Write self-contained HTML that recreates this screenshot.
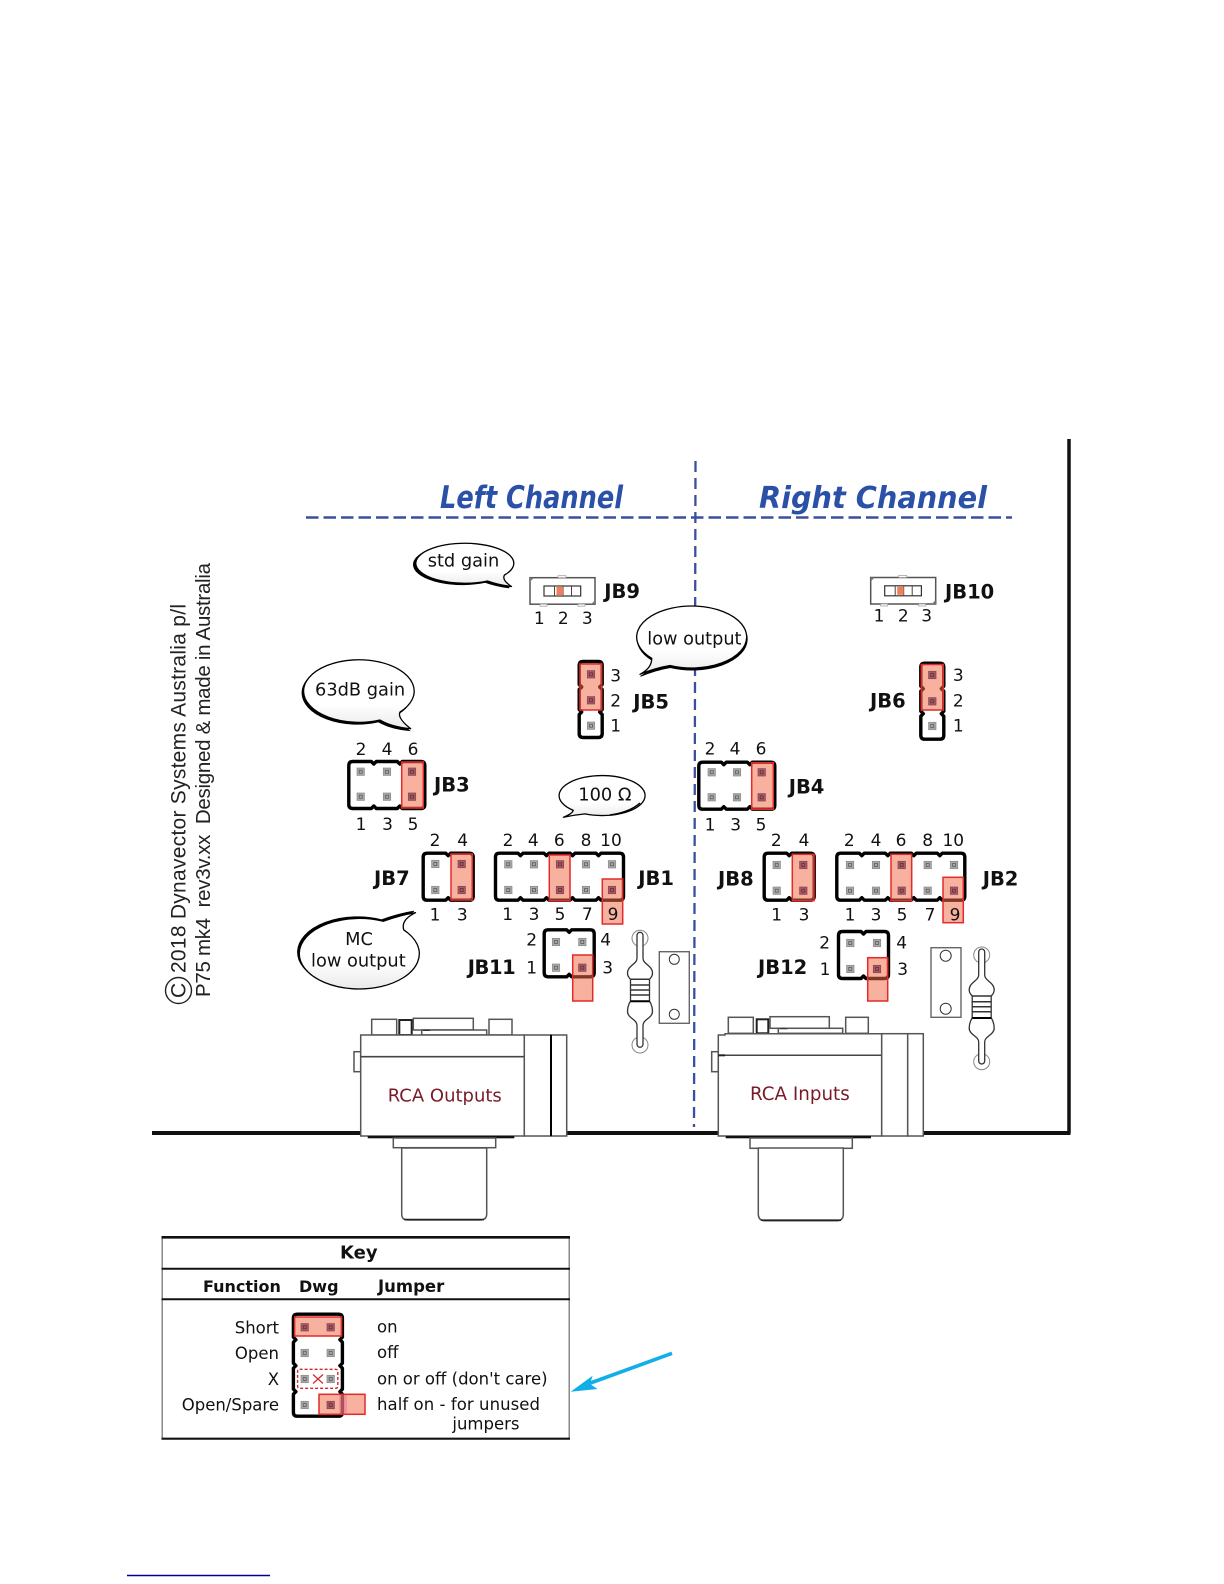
<!DOCTYPE html>
<html><head><meta charset="utf-8"><style>
html,body{margin:0;padding:0;background:#fff;width:1224px;height:1584px;overflow:hidden}
svg{display:block}
text{font-family:"DejaVu Sans","Liberation Sans",sans-serif;fill:#111}
.n{font-size:17px;text-anchor:middle}
.b{font-size:19.5px;font-weight:bold}
.t{font-size:17.8px}
.k{font-size:16.5px}
.kb{font-size:16px;font-weight:bold}
.r{text-anchor:end}
.ti{font-size:31px;font-weight:bold;font-style:italic;fill:#2a50a8}
.rca{font-size:18px;fill:#7a1a28}
.ar{font-family:"Liberation Sans",sans-serif;font-size:21px;fill:#222}
.j{fill:#fff;stroke:#000;stroke-width:3.4;stroke-linejoin:round}
.c{fill:#ef6a45;fill-opacity:.52;stroke:#e22a2a;stroke-width:1.5}
.g{fill:#fff;stroke:#555;stroke-width:1.5}
.bs{fill:url(#bg);stroke:#000;stroke-width:1.3;stroke-linejoin:round}
</style></head><body>
<svg width="1224" height="1584" viewBox="0 0 1224 1584" xmlns="http://www.w3.org/2000/svg">
<defs>
<linearGradient id="bg" x1="0" y1="0" x2="0" y2="1"><stop offset="0.65" stop-color="#fff"/><stop offset="1" stop-color="#eaeaea"/></linearGradient>
<g id="p"><rect x="-3.7" y="-3.7" width="7.4" height="7.4" fill="#a8a8a8" stroke="#8a8a8a" stroke-width=".7"/><rect x="-1.5" y="-1.5" width="3" height="3" fill="none" stroke="#555" stroke-width=".7"/></g>
<g id="q"><rect x="-3.7" y="-3.7" width="7.4" height="7.4" fill="#a45a62" stroke="#8a4450" stroke-width=".7"/><rect x="-1.5" y="-1.5" width="3" height="3" fill="none" stroke="#5a2a35" stroke-width=".7"/></g>
<path id="c2" class="j" d="M4 0H22.5L25 2.5L27.5 0H46Q50 0 50 4V43Q50 47 46 47H27.5L25 44.5L22.5 47H4Q0 47 0 43V4Q0 0 4 0Z"/>
<path id="c3" class="j" d="M4 0H22.5L25 2.5L27.5 0H48.5L51 2.5L53.5 0H72Q76 0 76 4V43Q76 47 72 47H53.5L51 44.5L48.5 47H27.5L25 44.5L22.5 47H4Q0 47 0 43V4Q0 0 4 0Z"/>
<path id="c5" class="j" d="M4 0H22.5L25 2.5L27.5 0H48.5L51 2.5L53.5 0H74.5L77 2.5L79.5 0H100.5L103 2.5L105.5 0H124Q128 0 128 4V43Q128 47 124 47H105.5L103 44.5L100.5 47H79.5L77 44.5L74.5 47H53.5L51 44.5L48.5 47H27.5L25 44.5L22.5 47H4Q0 47 0 43V4Q0 0 4 0Z"/>
<path id="v3" class="j" d="M4 0H19Q23 0 23 4V23L20.5 25.5L23 28V48L20.5 50.5L23 53V72Q23 76 19 76H4Q0 76 0 72V53L2.5 50.5L0 48V28L2.5 25.5L0 23V4Q0 0 4 0Z"/>
<path id="k4" class="j" d="M4 0H45Q49 0 49 4V23L46.5 25.5L49 28V49L46.5 51.5L49 54V75L46.5 77.5L49 80V98Q49 102 45 102H4Q0 102 0 98V80L2.5 77.5L0 75V54L2.5 51.5L0 49V28L2.5 25.5L0 23V4Q0 0 4 0Z"/>
<g id="res">
<circle cx="0" cy="0" r="8" fill="#fff" stroke="#888" stroke-width="1"/>
<circle cx="0" cy="106.7" r="8" fill="#fff" stroke="#888" stroke-width="1"/>
<path fill="#fff" stroke="#333" stroke-width="1.3" d="M-3 -3a3 3 0 0 1 6 0V20C3 26 12.5 27 12.5 35C12.5 38 9.5 41 9.5 41V63C9.5 63 12.5 67 12.5 73C12.5 80 3 81 3 87V106a3 3 0 0 1 -6 0V87C-3 81 -12.5 80 -12.5 73C-12.5 67 -9.5 63 -9.5 63V41C-9.5 41 -12.5 38 -12.5 35C-12.5 27 -3 26 -3 20Z"/>
<path stroke="#333" stroke-width="1.5" fill="none" d="M-9.5 41H9.5M-9.5 46.7H9.5M-9.5 51.7H9.5M-9.5 56.7H9.5"/>
<path stroke="#000" stroke-width="2" fill="none" d="M-9.5 63H9.5"/>
</g>
<g id="sw">
<rect x="0" y="0" width="65" height="26.5" fill="#fff" stroke="#555" stroke-width="1.5"/>
<path d="M0 4L4 0H0ZM65 22.5L61 26.5H65Z" fill="#777"/>
<rect x="28" y="-2" width="8" height="2" fill="#fff" stroke="#999" stroke-width=".7"/>
<rect x="10" y="26.5" width="7" height="2" fill="#fff" stroke="#999" stroke-width=".7"/>
<rect x="48" y="26.5" width="7" height="2" fill="#fff" stroke="#999" stroke-width=".7"/>
<rect x="14" y="8.3" width="36.7" height="10" fill="#fff" stroke="#333" stroke-width="1.2"/>
<path d="M24.5 8.3V18.3M33 8.3V18.3M41.5 8.3V18.3" stroke="#444" stroke-width="1"/>
<rect x="26.5" y="9.3" width="6.5" height="8" fill="#f27d5a"/>
</g>
</defs>

<rect width="1224" height="1584" fill="#fff"/>

<!-- frame -->
<path d="M1069 439V1133" stroke="#111" stroke-width="3.5" fill="none"/>
<path d="M152 1133H1070.5" stroke="#111" stroke-width="4" fill="none"/>
<path d="M695.5 461L694 1127" stroke="#3b4fa0" stroke-width="2.3" stroke-dasharray="11 6" fill="none"/>
<path d="M306 517.5H1012" stroke="#3b4fa0" stroke-width="2.5" stroke-dasharray="12.5 5" fill="none"/>

<text class="ti" x="440" y="508" textLength="183" lengthAdjust="spacingAndGlyphs">Left Channel</text>
<text class="ti" x="759" y="508" style="font-size:30px" textLength="228" lengthAdjust="spacingAndGlyphs">Right Channel</text>

<!-- rotated text -->
<g transform="translate(185.5,973) rotate(-90)">
<circle cx="-17.5" cy="-7" r="13" fill="none" stroke="#222" stroke-width="1.4"/>
<text class="ar" x="-25" y="0">C</text>
<text class="ar" x="0" y="0" textLength="369">2018 Dynavector Systems Australia p/l</text>
</g>
<g transform="translate(210,997) rotate(-90)">
<text class="ar" x="0" y="0" style="white-space:pre;font-size:20.5px" textLength="434">P75 mk4  rev3v.xx  Designed &amp; made in Australia</text>
</g>

<!-- bubbles -->
<path d="M486 581A49 20 0 1 1 503 575Q500 580 510 586.5Q497 585 486 581Z" fill="#000" stroke="#000" transform="translate(-.8,1.3)"/>
<path class="bs" d="M486 581A49 20 0 1 1 503 575Q500 580 510 586.5Q497 585 486 581Z" transform="translate(1.5,0)"/>
<text class="t" x="427.7" y="566.7">std gain</text>

<path d="M380 720A55.3 31.3 0 1 1 400 712Q397 718 410.7 728.7Q392 727 380 720Z" fill="#000" stroke="#000" transform="translate(-1.5,1.8)"/>
<path class="bs" d="M380 720A55.3 31.3 0 1 1 400 712Q397 718 410.7 728.7Q392 727 380 720Z"/>
<text class="t" x="315" y="695.7">63dB gain</text>

<path d="M651.7 658.3A55 31 0 1 1 670 665.5Q655 668 640 674.3Q652 668 651.7 658.3Z" fill="#000" stroke="#000" transform="translate(0.5,2)"/>
<path class="bs" d="M651.7 658.3A55 31 0 1 1 670 665.5Q655 668 640 674.3Q652 668 651.7 658.3Z"/>
<text class="t" x="647.3" y="644.3" style="font-size:17.7px">low output</text>

<path class="bs" d="M573.3 810.4A43 20 0 1 1 585 813.9Q574 815 563.3 817.3Q572 814 573.3 810.4Z"/>
<path d="M640 803Q630 812 610 815" fill="none" stroke="#000" stroke-width="1.5"/>
<text class="t" x="578.3" y="800.7">100 Ω</text>

<path d="M403.3 930A60 35.3 0 1 1 382.7 921.3Q400 915 415 912.7Q400 920 403.3 930Z" fill="#000" stroke="#000" transform="translate(-1.2,-1.5)"/>
<path class="bs" d="M403.3 930A60 35.3 0 1 1 382.7 921.3Q400 915 415 912.7Q400 920 403.3 930Z" transform="translate(.5,0)"/>
<text class="t" x="359" y="945" text-anchor="middle">MC</text>
<text class="t" x="311" y="966.7">low output</text>

<!-- JB9 -->
<use href="#sw" x="530" y="577.7"/>
<text class="n" x="539.3" y="624">1</text><text class="n" x="563.3" y="624">2</text><text class="n" x="587.3" y="624">3</text>
<text class="b" x="604.3" y="598">JB9</text>
<!-- JB10 -->
<use href="#sw" x="870.7" y="577.5"/>
<text class="n" x="879" y="621.7">1</text><text class="n" x="903.3" y="621.7">2</text><text class="n" x="926.7" y="621.7">3</text>
<text class="b" x="945" y="598.7">JB10</text>

<!-- JB5 -->
<use href="#v3" x="579.2" y="661.5"/>
<use href="#p" x="591" y="725.7"/>
<rect class="c" x="580" y="664" width="21.7" height="46"/>
<use href="#q" x="591" y="674.3"/><use href="#q" x="591" y="700.3"/>
<text class="n" x="615.7" y="681.7">3</text><text class="n" x="615.7" y="706.7">2</text><text class="n" x="615.7" y="731.7">1</text>
<text class="b" x="633.3" y="708.3">JB5</text>

<!-- JB6 -->
<use href="#v3" x="920.8" y="663.2"/>
<use href="#p" x="932.3" y="726"/>
<rect class="c" x="921.3" y="664.5" width="22" height="45.5"/>
<use href="#q" x="932.3" y="675"/><use href="#q" x="932.3" y="701.3"/>
<text class="n" x="958.3" y="681">3</text><text class="n" x="958.3" y="706.7">2</text><text class="n" x="958.3" y="731.7">1</text>
<text class="b" x="870" y="707.7">JB6</text>

<!-- JB3 -->
<use href="#c3" x="348.8" y="761.5"/>
<use href="#p" x="360.7" y="771.7"/><use href="#p" x="387" y="771.7"/>
<use href="#p" x="360.7" y="796.7"/><use href="#p" x="387" y="796.7"/>
<rect class="c" x="401.7" y="762" width="21.6" height="46"/>
<use href="#q" x="412" y="771.7"/><use href="#q" x="412" y="796.7"/>
<text class="n" x="361" y="755">2</text><text class="n" x="387" y="755">4</text><text class="n" x="413" y="755">6</text>
<text class="n" x="361" y="830">1</text><text class="n" x="387.5" y="830">3</text><text class="n" x="413" y="830">5</text>
<text class="b" x="434" y="791.7">JB3</text>

<!-- JB4 -->
<use href="#c3" x="698.8" y="762.2"/>
<use href="#p" x="711.7" y="772.3"/><use href="#p" x="737" y="772.3"/>
<use href="#p" x="711.7" y="797.3"/><use href="#p" x="737" y="797.3"/>
<rect class="c" x="751.7" y="762.7" width="21.6" height="46.6"/>
<use href="#q" x="761.7" y="772.3"/><use href="#q" x="761.7" y="797.3"/>
<text class="n" x="710" y="754.3">2</text><text class="n" x="735" y="754.3">4</text><text class="n" x="761" y="754.3">6</text>
<text class="n" x="710" y="830.7">1</text><text class="n" x="735.7" y="830.7">3</text><text class="n" x="761" y="830.7">5</text>
<text class="b" x="788.7" y="793.3">JB4</text>

<!-- JB7 -->
<use href="#c2" x="423.2" y="853.2"/>
<use href="#p" x="435.3" y="864"/><use href="#p" x="435.3" y="890"/>
<rect class="c" x="451" y="854" width="21.3" height="46"/>
<use href="#q" x="461.7" y="864"/><use href="#q" x="461.7" y="890"/>
<text class="n" x="435" y="846">2</text><text class="n" x="462.7" y="846">4</text>
<text class="n" x="435" y="920.7">1</text><text class="n" x="462.3" y="920.7">3</text>
<text class="b" x="374" y="885">JB7</text>

<!-- JB1 -->
<use href="#c5" x="495.5" y="853.2"/>
<use href="#p" x="508.3" y="864.3"/><use href="#p" x="534" y="864.3"/><use href="#p" x="586" y="864.3"/><use href="#p" x="612" y="864.3"/>
<use href="#p" x="508.3" y="890"/><use href="#p" x="534" y="890"/><use href="#p" x="586" y="890"/>
<rect class="c" x="549.3" y="855" width="20.7" height="45.7"/>
<use href="#q" x="560" y="864.3"/><use href="#q" x="560" y="890"/>
<text class="n" x="508" y="846">2</text><text class="n" x="533.3" y="846">4</text><text class="n" x="559.3" y="846">6</text><text class="n" x="586" y="846">8</text><text class="n" x="611" y="846">10</text>
<text class="n" x="507.7" y="920">1</text><text class="n" x="534" y="920">3</text><text class="n" x="560" y="920">5</text><text class="n" x="587.3" y="920">7</text>
<rect class="c" x="602.3" y="879" width="20.4" height="45"/>
<use href="#q" x="612" y="890"/>
<text class="n" x="613" y="920">9</text>
<text class="b" x="638.3" y="885">JB1</text>

<!-- JB11 -->
<use href="#c2" x="544.2" y="929.8"/>
<use href="#p" x="556" y="942"/><use href="#p" x="582.3" y="942"/><use href="#p" x="556" y="967.7"/>
<rect class="c" x="572.7" y="955" width="20" height="46"/>
<use href="#q" x="582.3" y="967.7"/>
<text class="n" x="531.7" y="945.7">2</text><text class="n" x="605.7" y="945.7">4</text>
<text class="n" x="531.7" y="973.3">1</text><text class="n" x="607.7" y="973.3">3</text>
<text class="b" x="467.7" y="974" textLength="48">JB11</text>

<!-- JB8 -->
<use href="#c2" x="764.2" y="853.2"/>
<use href="#p" x="776.7" y="865"/><use href="#p" x="776.7" y="890.7"/>
<rect class="c" x="792.3" y="854.3" width="21.7" height="46.4"/>
<use href="#q" x="803.3" y="865"/><use href="#q" x="803.3" y="890.7"/>
<text class="n" x="776.3" y="846">2</text><text class="n" x="804" y="846">4</text>
<text class="n" x="776.7" y="920.7">1</text><text class="n" x="804" y="920.7">3</text>
<text class="b" x="718" y="885.7">JB8</text>

<!-- JB2 -->
<use href="#c5" x="836.8" y="853.2"/>
<use href="#p" x="850" y="865"/><use href="#p" x="876" y="865"/><use href="#p" x="927.7" y="865"/><use href="#p" x="954" y="865"/>
<use href="#p" x="850" y="890.7"/><use href="#p" x="876" y="890.7"/><use href="#p" x="927.7" y="890.7"/>
<rect class="c" x="891" y="854.3" width="20.7" height="46.4"/>
<use href="#q" x="901.7" y="865"/><use href="#q" x="901.7" y="890.7"/>
<text class="n" x="849.3" y="846">2</text><text class="n" x="876" y="846">4</text><text class="n" x="901" y="846">6</text><text class="n" x="927.7" y="846">8</text><text class="n" x="953.3" y="846">10</text>
<text class="n" x="850" y="920.7">1</text><text class="n" x="876" y="920.7">3</text><text class="n" x="902" y="920.7">5</text><text class="n" x="930" y="920.7">7</text>
<rect class="c" x="943" y="877.3" width="20.3" height="45.4"/>
<use href="#q" x="954" y="890.7"/>
<text class="n" x="955" y="920.7">9</text>
<text class="b" x="982.7" y="885.3">JB2</text>

<!-- JB12 -->
<use href="#c2" x="838.5" y="931.5"/>
<use href="#p" x="850.3" y="943"/><use href="#p" x="877" y="943"/><use href="#p" x="850.3" y="969"/>
<rect class="c" x="867.7" y="957.7" width="20" height="43.3"/>
<use href="#q" x="877" y="969"/>
<text class="n" x="824.7" y="948.3">2</text><text class="n" x="901.7" y="948.3">4</text>
<text class="n" x="825" y="975">1</text><text class="n" x="902.7" y="975">3</text>
<text class="b" x="758" y="974">JB12</text>

<!-- plates and resistors -->
<rect x="659.3" y="951.7" width="30" height="71.6" fill="#fff" stroke="#666" stroke-width="1.4"/>
<circle cx="674.3" cy="959.3" r="5" fill="#fff" stroke="#333" stroke-width="1"/>
<circle cx="674.3" cy="1014.3" r="5" fill="#fff" stroke="#333" stroke-width="1"/>
<use href="#res" x="640" y="938.3"/>
<rect x="931" y="947.7" width="30" height="69.6" fill="#fff" stroke="#666" stroke-width="1.4"/>
<circle cx="945.7" cy="955.7" r="5.5" fill="#fff" stroke="#333" stroke-width="1"/>
<circle cx="945.7" cy="1008.7" r="5.5" fill="#fff" stroke="#333" stroke-width="1"/>
<use href="#res" x="981.7" y="955"/>

<!-- RCA Outputs -->
<rect class="g" x="371.7" y="1019.3" width="25" height="15.7"/>
<rect x="399.3" y="1020" width="12.4" height="15" fill="#fff" stroke="#222" stroke-width="2"/>
<rect class="g" x="413.3" y="1018.3" width="60" height="11.7"/>
<rect class="g" x="421.7" y="1030" width="65" height="5"/>
<path d="M422 1031Q426 1028 431 1031Z" fill="#333"/>
<rect class="g" x="489" y="1019.3" width="23" height="15.7"/>
<rect class="g" x="354" y="1051.7" width="6.7" height="20"/>
<rect class="g" x="360.7" y="1035" width="163.6" height="101"/>
<path d="M360.7 1056.7H524.3" stroke="#444" stroke-width="1.7"/>
<rect class="g" x="524.3" y="1035" width="26.7" height="101"/>
<rect class="g" x="551" y="1035" width="15.7" height="101"/>
<path d="M551 1035V1136" stroke="#000" stroke-width="2"/>
<rect x="367.7" y="1136" width="146.6" height="2.3" fill="#111"/>
<rect class="g" x="393.3" y="1138" width="102.4" height="9.7"/>
<path class="g" d="M401.7 1148V1214Q401.7 1220 408 1220H480Q486.7 1220 486.7 1214V1148Z"/>
<path d="M404 1219.5H484" stroke="#222" stroke-width="1.6"/>
<text class="rca" x="387.7" y="1101.7">RCA Outputs</text>

<!-- RCA Inputs -->
<rect class="g" x="728.3" y="1017.3" width="25" height="16"/>
<rect x="756.7" y="1019.3" width="11.6" height="14" fill="#fff" stroke="#222" stroke-width="2"/>
<rect class="g" x="770" y="1016.7" width="59.3" height="11.6"/>
<rect class="g" x="778.3" y="1028.3" width="64.4" height="5"/>
<path d="M779 1029.3Q783 1026.3 788 1029.3Z" fill="#333"/>
<rect class="g" x="845.7" y="1017.3" width="22.6" height="16"/>
<rect class="g" x="711.7" y="1051.7" width="6.6" height="20"/>
<path class="g" d="M718.3 1035H725V1033.7H881.7V1136H718.3Z"/>
<path d="M718.3 1055.3H725" stroke="#222" stroke-width="2"/>
<path d="M725 1055.3H881.7" stroke="#444" stroke-width="1.5"/>
<rect class="g" x="881.7" y="1033.7" width="26" height="102.3"/>
<rect class="g" x="907.7" y="1033.7" width="15.6" height="102.3"/>
<rect x="725.7" y="1136" width="145.3" height="2.3" fill="#111"/>
<rect class="g" x="750" y="1138" width="102.3" height="10.3"/>
<path class="g" d="M758.3 1148V1214Q758.3 1220.7 765 1220.7H837Q843.3 1220.7 843.3 1214V1148Z"/>
<path d="M761 1220.2H841" stroke="#222" stroke-width="1.6"/>
<text class="rca" x="750" y="1100" style="font-size:18.3px">RCA Inputs</text>

<!-- Key -->
<rect x="162.2" y="1237.3" width="407" height="201.4" fill="#fff" stroke="#777" stroke-width="1.3"/>
<path d="M161.5 1237.3H570" stroke="#111" stroke-width="2.6"/>
<path d="M161.5 1268.7H570" stroke="#111" stroke-width="2"/>
<path d="M161.5 1299.3H570" stroke="#111" stroke-width="2"/>
<path d="M161.5 1438.7H570" stroke="#111" stroke-width="2.2"/>
<text class="b" x="358.8" y="1258.3" text-anchor="middle" style="font-size:18px">Key</text>
<text class="kb" x="203" y="1292">Function</text>
<text class="kb" x="299" y="1292">Dwg</text>
<text class="kb" x="378" y="1292" style="font-size:16.5px">Jumper</text>

<use href="#k4" x="293.4" y="1314.2"/>
<use href="#p" x="304.7" y="1353"/><use href="#p" x="330.7" y="1353"/>
<use href="#p" x="304.7" y="1379"/><use href="#p" x="330.7" y="1379"/>
<use href="#p" x="304.7" y="1405"/>
<rect class="c" x="294.6" y="1317" width="47" height="19"/>
<use href="#q" x="304.7" y="1327.3"/><use href="#q" x="330.7" y="1327.3"/>
<rect x="297.6" y="1369.3" width="40.2" height="19" rx="2" fill="none" stroke="#d8242a" stroke-width="1.4" stroke-dasharray="3 2"/>
<path d="M313 1374.5L323 1383.5M323 1374.5L313 1383.5" stroke="#d8242a" stroke-width="1.2"/>
<rect x="319" y="1394.3" width="46" height="20" fill="#ef6a45" fill-opacity=".52" stroke="#e22a2a" stroke-width="1.5"/>
<rect x="339" y="1395" width="8" height="18.6" fill="#e8709a" fill-opacity=".45"/>
<use href="#q" x="330.7" y="1405"/>

<text class="k r" x="279" y="1333.3">Short</text>
<text class="k r" x="279" y="1359">Open</text>
<text class="k r" x="279" y="1385">X</text>
<text class="k r" x="279" y="1410.7">Open/Spare</text>
<text class="k" x="377" y="1332.3">on</text>
<text class="k" x="377" y="1358">off</text>
<text class="k" x="377" y="1384.3">on or off (don't care)</text>
<text class="k" x="377" y="1410" style="white-space:pre" textLength="163">half on - for unused</text>
<text class="k" x="452.4" y="1429.3">jumpers</text>

<!-- arrow -->
<path d="M672 1353.3L585 1385" stroke="#12aee8" stroke-width="3.6" fill="none"/>
<path d="M570.6 1391.7L592.6 1375.7L590 1384L597.6 1389Z" fill="#12aee8"/>

<path d="M127 1575.5H270" stroke="#000090" stroke-width="1.4"/>
</svg>
</body></html>
